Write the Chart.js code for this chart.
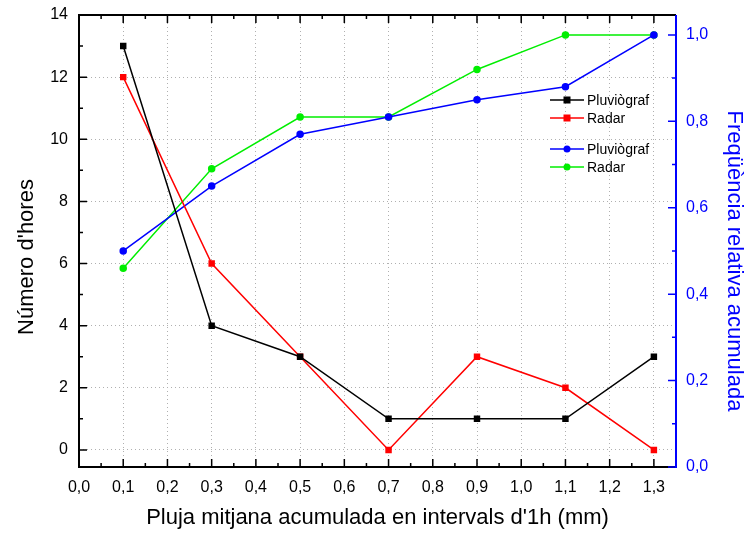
<!DOCTYPE html>
<html>
<head>
<meta charset="utf-8">
<script src="https://cdn.jsdelivr.net/npm/chart.js@4.4.1/dist/chart.umd.min.js"></script>
<style>
  html, body { margin: 0; padding: 0; background: #fff; }
  #wrap { width: 745px; height: 533px; }
</style>
</head>
<body>
<div id="wrap"><canvas id="myChart"></canvas></div>
<script>
// Rain intervals (mm) and hour counts per source
const intervals = [0.1, 0.3, 0.5, 0.7, 0.9, 1.1, 1.3];
const hoursGauge = [13, 4, 3, 1, 1, 1, 3];
const hoursRadar = [12, 6, 3, 0, 3, 2, 0];
// cumulative relative frequency
const cumGauge = [0.50, 0.65, 0.77, 0.81, 0.85, 0.88, 1.00];
const cumRadar = [0.46, 0.69, 0.81, 0.81, 0.92, 1.00, 1.00];

const xTicks = [0, 0.1, 0.2, 0.3, 0.4, 0.5, 0.6, 0.7, 0.8, 0.9, 1.0, 1.1, 1.2, 1.3];
const yTicks = [0, 2, 4, 6, 8, 10, 12, 14];
const y2Ticks = [0, 0.2, 0.4, 0.6, 0.8, 1.0];

const FONT = "'Liberation Sans', Arial, sans-serif";
const comma = (v) => v.toFixed(1).replace(".", ",");
const pts = (ys) => intervals.map((x, i) => ({ x: x, y: ys[i] }));
const fixTicks = (list) => (scale) => { scale.ticks = list.map((v) => ({ value: v })); };

// frame, inward tick marks, axis titles and legend
const decorPlugin = {
  id: "decor",
  afterDraw(chart) {
    const { ctx, chartArea: a, scales } = chart;
    const { x, y, y2 } = scales;
    ctx.save();
    ctx.lineCap = "butt";

    // black frame (left, top, bottom)
    ctx.strokeStyle = "#000";
    ctx.lineWidth = 2;
    ctx.beginPath();
    ctx.moveTo(a.right, a.top);
    ctx.lineTo(a.left, a.top);
    ctx.lineTo(a.left, a.bottom);
    ctx.lineTo(a.right, a.bottom);
    ctx.stroke();

    // x ticks, top and bottom
    ctx.lineWidth = 1.5;
    ctx.beginPath();
    for (let i = 0; i <= 27; i++) {
      const px = x.getPixelForValue(i * 0.05);
      const len = i % 2 === 0 ? 8 : 4;
      ctx.moveTo(px, a.bottom);
      ctx.lineTo(px, a.bottom - len);
      ctx.moveTo(px, a.top);
      ctx.lineTo(px, a.top + len);
    }
    // left ticks
    for (let v = 0; v <= 14; v++) {
      const py = y.getPixelForValue(v);
      const len = v % 2 === 0 ? 8 : 4;
      ctx.moveTo(a.left, py);
      ctx.lineTo(a.left + len, py);
    }
    ctx.stroke();

    // blue right axis
    ctx.strokeStyle = "#0000ff";
    ctx.lineWidth = 2;
    ctx.beginPath();
    ctx.moveTo(a.right, a.top);
    ctx.lineTo(a.right, a.bottom + 1);
    ctx.stroke();
    ctx.lineWidth = 1.5;
    ctx.beginPath();
    for (let i = 0; i <= 10; i++) {
      const py = y2.getPixelForValue(i * 0.1);
      const len = i % 2 === 0 ? 8 : 4;
      ctx.moveTo(a.right, py);
      ctx.lineTo(a.right - len, py);
    }
    ctx.stroke();

    // vertical axis titles
    ctx.textAlign = "center";
    ctx.textBaseline = "middle";
    ctx.font = "22px " + FONT;
    ctx.fillStyle = "#000";
    ctx.save();
    ctx.translate(27, 257);
    ctx.rotate(-Math.PI / 2);
    ctx.fillText("Número d'hores", 0, 0);
    ctx.restore();
    ctx.fillStyle = "#0000ff";
    ctx.save();
    ctx.translate(734, 261);
    ctx.rotate(Math.PI / 2);
    ctx.fillText("Freqüència relativa acumulada", 0, 0);
    ctx.restore();

    // legend
    const rows = [[0, 100], [1, 118], [2, 149], [3, 167]];
    ctx.font = "14px " + FONT;
    ctx.textAlign = "left";
    rows.forEach(([di, ly]) => {
      const ds = chart.data.datasets[di];
      ctx.strokeStyle = ds.borderColor;
      ctx.fillStyle = ds.borderColor;
      ctx.lineWidth = 1.5;
      ctx.beginPath();
      ctx.moveTo(550, ly);
      ctx.lineTo(584, ly);
      ctx.stroke();
      ctx.beginPath();
      if (ds.pointStyle === "rect") {
        ctx.fillRect(563.5, ly - 3.5, 7, 7);
      } else {
        ctx.arc(567, ly, 3.5, 0, Math.PI * 2);
        ctx.fill();
      }
      ctx.fillStyle = "#000";
      ctx.fillText(ds.label, 587, ly + 1);
    });
    ctx.restore();
  },
};

const ctx = document.getElementById("myChart");
new Chart(ctx, {
  type: "line",
  data: {
    datasets: [
      {
        label: "Pluviògraf",
        data: pts(hoursGauge),
        yAxisID: "y",
        borderColor: "#000000",
        backgroundColor: "#000000",
        pointStyle: "rect",
        pointRadius: 3.5,
        borderWidth: 1.5,
      },
      {
        label: "Radar",
        data: pts(hoursRadar),
        yAxisID: "y",
        borderColor: "#ff0000",
        backgroundColor: "#ff0000",
        pointStyle: "rect",
        pointRadius: 3.5,
        borderWidth: 1.5,
      },
      {
        label: "Pluviògraf",
        data: pts(cumGauge),
        yAxisID: "y2",
        borderColor: "#0000ff",
        backgroundColor: "#0000ff",
        pointStyle: "circle",
        pointRadius: 3,
        borderWidth: 1.5,
      },
      {
        label: "Radar",
        data: pts(cumRadar),
        yAxisID: "y2",
        borderColor: "#00ee00",
        backgroundColor: "#00ee00",
        pointStyle: "circle",
        pointRadius: 3,
        borderWidth: 1.5,
      },
    ],
  },
  options: {
    responsive: true,
    maintainAspectRatio: false,
    animation: false,
    layout: { padding: { top: 15, left: 0, right: 0, bottom: 2 } },
    plugins: { legend: { display: false }, tooltip: { enabled: false } },
    elements: { line: { tension: 0 }, point: { borderWidth: 0 } },
    scales: {
      x: {
        type: "linear",
        min: 0,
        max: 1.35,
        afterBuildTicks: fixTicks(xTicks),
        afterFit: (s) => { s.height = 64; },
        grid: { color: "#b0b0b0", lineWidth: 1, drawTicks: false },
        border: { display: false, dash: [1, 3] },
        ticks: { color: "#000", font: { family: FONT, size: 16 }, padding: 11, callback: comma, maxRotation: 0 },
        title: {
          display: true,
          text: "Pluja mitjana acumulada en intervals d'1h (mm)",
          color: "#000",
          font: { family: FONT, size: 22 },
          padding: { top: 0, bottom: 0 },
        },
      },
      y: {
        position: "left",
        min: -0.55,
        max: 14,
        afterBuildTicks: fixTicks(yTicks),
        afterFit: (s) => { s.width = 79; },
        grid: { color: "#b0b0b0", lineWidth: 1, drawTicks: false },
        border: { display: false, dash: [1, 3] },
        ticks: { color: "#000", font: { family: FONT, size: 16, lineHeight: 0.5 }, padding: 11 },
      },
      y2: {
        position: "right",
        min: 0,
        max: 1.046,
        afterBuildTicks: fixTicks(y2Ticks),
        afterFit: (s) => { s.width = 69; },
        grid: { display: false, drawTicks: false },
        border: { display: false },
        ticks: { color: "#0000ff", font: { family: FONT, size: 16, lineHeight: 0.5 }, padding: 10, callback: comma },
      },
    },
  },
  plugins: [decorPlugin],
});
</script>
</body>
</html>
